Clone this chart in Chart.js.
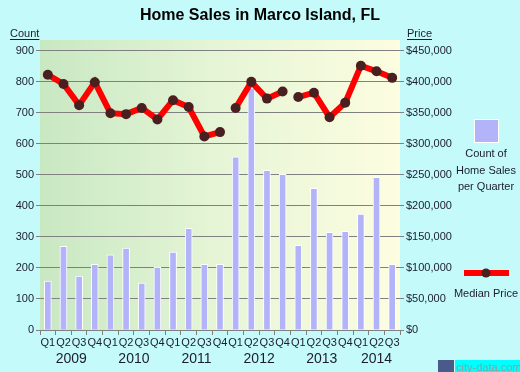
<!DOCTYPE html>
<html>
<head>
<meta charset="utf-8">
<script src="https://cdn.jsdelivr.net/npm/chart.js@4/dist/chart.umd.min.js"></script>
<style>
html,body{margin:0;padding:0;background:#c4fafa;}
#wrap{position:relative;width:520px;height:372px;}
</style>
</head>
<body>
<div id="wrap"><canvas id="c" width="520" height="372"></canvas></div>
<script>
const quarters = ['Q1','Q2','Q3','Q4','Q1','Q2','Q3','Q4','Q1','Q2','Q3','Q4','Q1','Q2','Q3','Q4','Q1','Q2','Q3','Q4','Q1','Q2','Q3'];
const years = ['2009','2010','2011','2012','2013','2014'];
const yearStart = [0,4,8,12,16,20];
const salesCount = [158,270,174,212, 242,264,151,203, 251,328,212,212, 558,780,515,502, 273,457,315,318, 374,492,212];
const medianPrice = [411500,396500,362500,399500, 349500,348000,358000,339500, 370500,359500,312000,319000, 358000,400000,373000,384500, 375500,382500,343000,366500, 426000,417000,406500];
const lineBreaksAfter = [11,15];
const countTicks = [0,100,200,300,400,500,600,700,800,900];
const priceTicks = [0,50000,100000,150000,200000,250000,300000,350000,400000,450000];

const FONT = "'Liberation Sans', Arial, sans-serif";
const TXT = '#1c1c30';

const decor = {
  id:'decor',
  beforeDraw(chart){
    const {ctx, chartArea:a} = chart;
    ctx.save();
    const g = ctx.createLinearGradient(a.left,0,a.right,0);
    g.addColorStop(0,'#c8e8c2');
    g.addColorStop(0.5,'#e6f5d6');
    g.addColorStop(1,'#fdfde0');
    ctx.fillStyle = g;
    ctx.fillRect(a.left, a.top, a.right-a.left, a.bottom-a.top);
    ctx.restore();
  },
  afterDraw(chart){
    const {ctx} = chart;
    const xs = chart.scales.x;
    ctx.save();
    ctx.fillStyle = '#000';
    ctx.font = "bold 16px " + FONT;
    ctx.textAlign = 'center';
    ctx.textBaseline = 'alphabetic';
    ctx.fillText('Home Sales in Marco Island, FL', 260, 20);

    // axis titles
    ctx.font = "11px " + FONT;
    ctx.fillStyle = TXT;
    ctx.textAlign = 'left';
    ctx.fillText('Count', 10, 37);
    ctx.fillText('Price', 407, 37);
    ctx.strokeStyle = TXT; ctx.lineWidth = 1;
    ctx.beginPath();
    ctx.moveTo(10, 39.5); ctx.lineTo(10+ctx.measureText('Count').width, 39.5);
    ctx.moveTo(407, 39.5); ctx.lineTo(407+ctx.measureText('Price').width, 39.5);
    ctx.stroke();

    // years
    ctx.font = "14px " + FONT;
    ctx.textAlign = 'center';
    ctx.fillStyle = TXT;
    years.forEach((yr,i)=>{
      const s = yearStart[i];
      const e = Math.min(s+3, quarters.length-1);
      const cx = (xs.getPixelForTick(s)+xs.getPixelForTick(e))/2;
      ctx.fillText(yr, cx, 363);
    });

    // legend
    ctx.fillStyle = '#b3b3fa';
    ctx.fillRect(474,119,25,24);
    ctx.strokeStyle = '#ffffff'; ctx.lineWidth = 1;
    ctx.strokeRect(474.5,119.5,24,23);
    ctx.fillStyle = TXT;
    ctx.font = "11px " + FONT;
    ctx.textAlign = 'center';
    ctx.fillText('Count of', 486, 157);
    ctx.fillText('Home Sales', 486, 174);
    ctx.fillText('per Quarter', 486, 190);
    ctx.fillStyle = '#ff0000';
    ctx.fillRect(464,270,45,6);
    ctx.fillStyle = '#4a1f1f';
    ctx.beginPath(); ctx.arc(486,273,4.5,0,Math.PI*2); ctx.fill();
    ctx.fillStyle = TXT;
    ctx.fillText('Median Price', 486, 297);

    // watermark
    ctx.fillStyle = '#00ffff';
    ctx.fillRect(455,360,65,12);
    ctx.fillStyle = '#4a5a8a';
    ctx.fillRect(438,360,16,12);
    ctx.fillStyle = '#999';
    ctx.font = "11px " + FONT;
    ctx.textAlign = 'left';
    ctx.fillText('city-data.com', 456, 371);
    ctx.restore();
  }
};

new Chart(document.getElementById('c'), {
  data: {
    labels: quarters,
    datasets: [
      {
        type:'line', label:'Median Price', data: medianPrice, yAxisID:'y2', order:0,
        borderColor:'#ff0000', borderWidth:6, pointRadius:5, pointHoverRadius:5,
        pointBackgroundColor:'#4a1f1f', pointBorderWidth:0, tension:0,
        segment:{ borderColor: c => lineBreaksAfter.includes(c.p0DataIndex) ? 'rgba(0,0,0,0)' : '#ff0000' }
      },
      {
        type:'bar', label:'Count of Home Sales per Quarter', data: salesCount, yAxisID:'y', order:1,
        backgroundColor:'#b3b3fa', borderColor:'#ffffff', borderWidth:1, barThickness:7
      }
    ]
  },
  options: {
    responsive:false, animation:false, events:[],
    layout:{ padding:{ top:40, left:0, right:0, bottom:0 } },
    plugins:{ legend:{display:false}, title:{display:false}, tooltip:{enabled:false} },
    scales:{
      x:{
        offset:true,
        grid:{ offset:true, drawOnChartArea:false, drawTicks:true, tickLength:5, color:'#808080' },
        border:{ display:true, color:'#808080' },
        ticks:{ color:TXT, font:{family:FONT, size:11}, maxRotation:0, autoSkip:false, padding:1 },
        afterFit(s){ s.height = 42; }
      },
      y:{
        position:'left', min:0, max:935,
        afterBuildTicks(s){ s.ticks = countTicks.map(v=>({value:v})); },
        grid:{ color:'#808080', tickLength:4 },
        border:{ display:false },
        ticks:{ color:TXT, font:{family:FONT, size:11}, padding:2 },
        afterFit(s){ s.width = 40; }
      },
      y2:{
        position:'right', min:0, max:467500,
        afterBuildTicks(s){ s.ticks = priceTicks.map(v=>({value:v})); },
        grid:{ drawOnChartArea:false, color:'#808080', tickLength:4 },
        border:{ display:false },
        ticks:{ color:TXT, font:{family:FONT, size:11}, padding:2,
          callback: v => '$' + Number(v).toLocaleString('en-US') },
        afterFit(s){ s.width = 120; }
      }
    }
  },
  plugins:[decor]
});
</script>
</body>
</html>
